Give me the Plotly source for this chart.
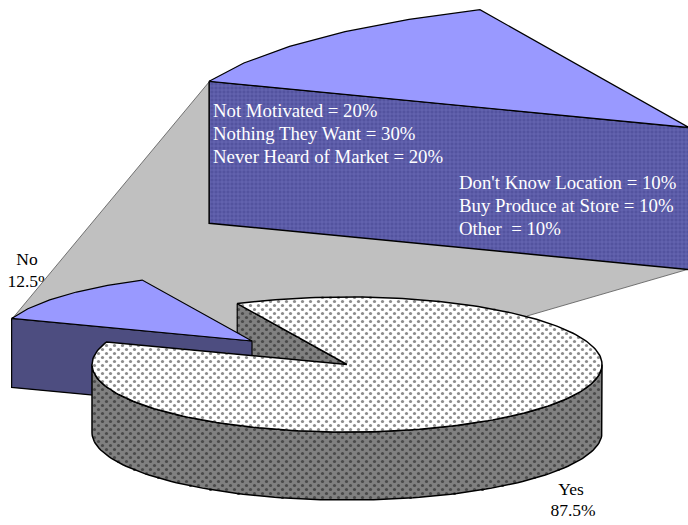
import math
import numpy as np
import plotly.graph_objects as go

# ---- data ----
pie_labels = ["Yes", "No"]
pie_shares = [87.5, 12.5]
reason_labels_left = ["Not Motivated", "Nothing They Want", "Never Heard of Market"]
reason_shares_left = [20, 30, 20]
reason_labels_right = ["Don't Know Location", "Buy Produce at Store", "Other "]
reason_shares_right = [10, 10, 10]

# ---- style / geometry ----
W, H = 688, 525
BLUE_TOP = "#9999FF"
BLUE_WALL_SMALL = "#4D4D80"
BLUE_WALL_BIG = "#5A5AA6"
GREY = "#C0C0C0"
FONT = "Liberation Serif"

no_span = 360 * pie_shares[1] / sum(pie_shares)
main = dict(cx=347, cy=364.5, a=255, b=67.5, depth=68, t0=115.5)
small = dict(cx=252, cy=341, a=255, b=67.5, depth=69, t0=115.5)
big = dict(cx=689, cy=127.5, a=514, b=129, depth=142, t0=114)


def pt(g, t, dz=0):
    r = math.radians(t)
    return g["cx"] + g["a"] * math.cos(r), g["cy"] - g["b"] * math.sin(r) + dz


def arc(g, t1, t2, n, dz=0):
    return [pt(g, t1 + (t2 - t1) * i / n, dz) for i in range(n + 1)]


fig = go.Figure()


def poly(points, fill=None, line="black", width=1.0, pattern=None):
    xs = [p[0] for p in points]
    ys = [p[1] for p in points]
    kw = {}
    if fill is not None:
        xs.append(xs[0])
        ys.append(ys[0])
        kw["fill"] = "toself"
        kw["fillcolor"] = fill
    if pattern is not None:
        kw["fillpattern"] = pattern
    fig.add_trace(go.Scatter(
        x=xs, y=ys, mode="lines",
        line=dict(color=line, width=width) if width else dict(width=0, color="rgba(0,0,0,0)"),
        hoverinfo="skip", showlegend=False, **kw))


def stipple(points, color, size=3.2):
    """Regular staggered dot texture clipped to a polygon."""
    p = np.array(points)
    X, Y = np.meshgrid(np.arange(0, W + 1, 4.0), np.arange(0, H + 1, 4.0))
    keep = ((X / 4 + Y / 4) % 2) == 0
    x, y = X[keep] + 2.5, Y[keep] + 1.5
    inside = np.zeros(x.shape, bool)
    x0, y0 = p[:, 0], p[:, 1]
    x1, y1 = np.roll(x0, -1), np.roll(y0, -1)
    for a, b, c, d in zip(x0, y0, x1, y1):
        if b == d:
            continue
        cross = ((b > y) != (d > y)) & (x < a + (y - b) * (c - a) / (d - b))
        inside ^= cross
    fig.add_trace(go.Scatter(
        x=x[inside], y=y[inside], mode="markers",
        marker=dict(size=size, color=color, line=dict(width=0)),
        hoverinfo="skip", showlegend=False))


def shape_with_dots(points, fill, dot, width):
    poly(points, fill=fill, width=0)
    stipple(points, dot)
    poly(points + [points[0]], width=width)


def text(x, y, s, color="black", anchor="left", size=18.8):
    fig.add_trace(go.Scatter(
        x=[x], y=[y], mode="text", text=[s],
        textposition="middle right" if anchor == "left" else "middle center",
        textfont=dict(family=FONT, size=size, color=color),
        hoverinfo="skip", showlegend=False))


# label of the No slice sits below the grey connector
text(27, 261, pie_labels[1], anchor="center", size=17.5)
text(30, 283, f"{pie_shares[1]}%", anchor="center", size=17.5)

# grey connector
conn = [(209, 82), (689, 269), (527, 316), (252, 341), (12, 319)]
poly(conn, fill=GREY, width=0)
poly([(12, 319), (209, 82)], line="#555555", width=0.8)
poly([(527, 316), (689, 269)], line="#555555", width=0.8)

# exploded big slice
g = big
left, apex = pt(g, g["t0"] + no_span), (g["cx"], g["cy"])
poly([left, apex, (apex[0], apex[1] + g["depth"]), (left[0], left[1] + g["depth"])],
     fill=BLUE_WALL_BIG, width=1.5,
     pattern=dict(shape="+", size=4, solidity=0.25, bgcolor="#53539F", fgcolor="#7272BE", fillmode="replace"))
poly([apex] + arc(g, g["t0"], g["t0"] + no_span, 5), fill=BLUE_TOP, width=1.2)

# cut face of the main pie (behind the small slice)
g = main
t_a, t_b = g["t0"], g["t0"] + no_span
m_apex = (g["cx"], g["cy"])
start = pt(g, t_a)
shape_with_dots([start, m_apex, (m_apex[0], m_apex[1] + g["depth"]), (start[0], start[1] + g["depth"])],
                "#808080", "#4A4A4A", 1.2)

# exploded small slice
g = small
left, apex = pt(g, g["t0"] + no_span), (g["cx"], g["cy"])
poly([left, apex, (apex[0], apex[1] + g["depth"]), (left[0], left[1] + g["depth"])],
     fill=BLUE_WALL_SMALL, width=1.2)
poly([apex] + arc(g, g["t0"], g["t0"] + no_span, 5), fill=BLUE_TOP, width=1.2)

# main pie wall and top
g = main
shape_with_dots(arc(g, 180, 360, 120) + arc(g, 360, 180, 120, g["depth"]), "#808080", "#4A4A4A", 1.5)
shape_with_dots([m_apex] + arc(g, t_b, t_a + 360, 240), "#FFFFFF", "#8C8C8C", 1.5)

# reasons
for i, (lab, v) in enumerate(zip(reason_labels_left, reason_shares_left)):
    text(213, 112 + 23 * i, f"{lab} = {v}%", color="white")
for i, (lab, v) in enumerate(zip(reason_labels_right, reason_shares_right)):
    text(459, 184 + 23 * i, f"{lab} = {v}%", color="white")

# Yes label
text(571, 491, pie_labels[0], anchor="center", size=17.5)
text(573, 512, f"{pie_shares[0]}%", anchor="center", size=17.5)

fig.update_layout(
    width=W, height=H, autosize=False,
    margin=dict(l=0, r=0, t=0, b=0),
    paper_bgcolor="white", plot_bgcolor="white",
    showlegend=False,
    xaxis=dict(range=[0, W], visible=False, fixedrange=True),
    yaxis=dict(range=[H, 0], visible=False, fixedrange=True),
)
fig.write_html("out.html", config={"displayModeBar": False},
               post_script="document.body.style.margin='0';document.body.style.overflow='hidden';")
